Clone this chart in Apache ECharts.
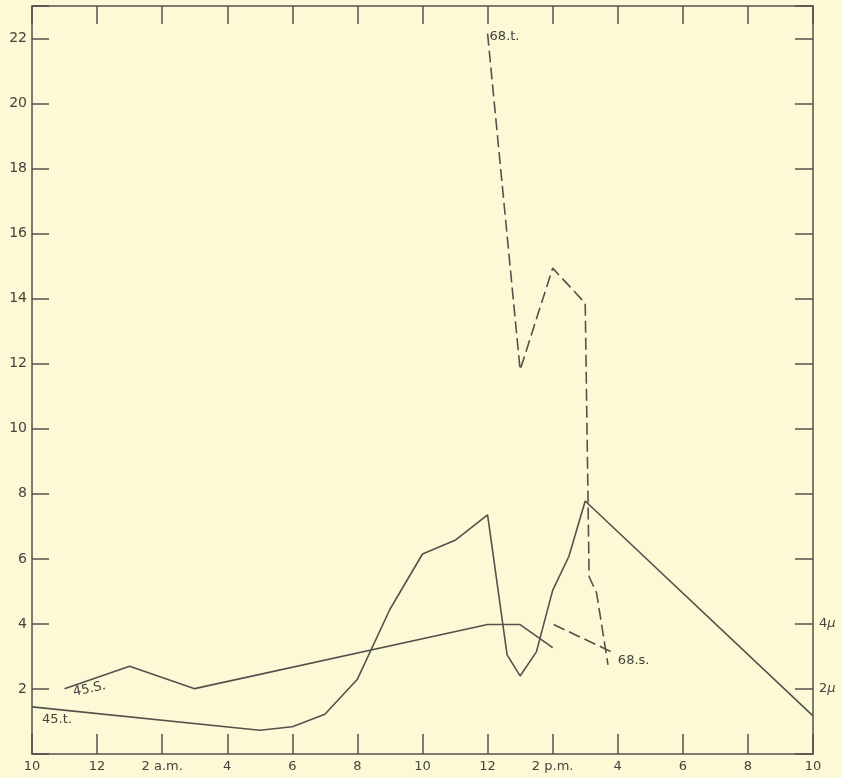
<!DOCTYPE html>
<html>
<head>
<meta charset="utf-8">
<script src="https://cdn.jsdelivr.net/npm/echarts@6/dist/echarts.min.js"></script>
<style>
html,body{margin:0;padding:0;background:#fcfad6;}
#c{width:842px;height:778px;}
</style>
</head>
<body>
<div id="c"></div>
<script>
// hours counted from 10 p.m. of the previous day
var xTickLabels = ['10','12','2 a.m.','4','6','8','10','12','2 p.m.','4','6','8','10'];
var rightLabels = {2:'2', 4:'4'};

var t45Hours = [0, 7, 8, 9, 10, 11, 12, 13, 14, 14.6, 15, 15.5, 16, 16.5, 17, 24];
var t45Values = [1.45, 0.73, 0.84, 1.22, 2.3, 4.45, 6.15, 6.57, 7.35, 3.05, 2.4, 3.14, 5.03, 6.08, 7.78, 1.17];

var s45Hours = [1, 3, 5, 14, 15, 16];
var s45Values = [2.01, 2.7, 2.01, 3.98, 3.98, 3.27];

var t68Hours = [14, 15, 16, 17, 17.12, 17.35, 17.7];
var t68Values = [22.15, 11.81, 14.94, 13.86, 5.45, 4.95, 2.74];

var s68Hours = [16.03, 17.85];
var s68Values = [3.98, 3.12];

var INK = '#55514c';
var TEXT = '#45413d';
var FONT = 'DejaVu Sans';

function pts(h, v) { return h.map(function (x, i) { return [x, v[i]]; }); }
function withLabel(data, idx, label) {
  data[idx] = { value: data[idx], label: Object.assign({ show: true, color: TEXT, fontFamily: FONT, fontSize: 13 }, label) };
  return data;
}

var t45 = withLabel(pts(t45Hours, t45Values), 0, { formatter: '45.t.', position: 'right', distance: 10, offset: [0, 13] });
var s45 = withLabel(pts(s45Hours, s45Values), 0, { formatter: '45.S.', position: 'right', distance: 8, offset: [0, 4], rotate: 12 });
var t68 = withLabel(pts(t68Hours, t68Values), 0, { formatter: '68.t.', position: 'right', distance: 2, offset: [0, 3] });
var s68 = withLabel(pts(s68Hours, s68Values), s68Hours.length - 1, { formatter: '68.s.', position: 'right', distance: 5, offset: [0, 8] });

var axisLine = { show: true, onZero: false, lineStyle: { color: INK, width: 1.5 } };

function lineSeries(name, data, dashed) {
  return {
    name: name, type: 'line', data: data,
    symbol: 'circle', symbolSize: 0, showSymbol: true,
    itemStyle: { color: INK },
    lineStyle: { color: INK, width: 1.6, type: dashed ? [12, 5] : 'solid' },
    label: { show: false },
    emphasis: { disabled: true },
    silent: true,
    z: 3
  };
}

var chart = echarts.init(document.getElementById('c'), null, { renderer: 'canvas' });
chart.setOption({
  animation: false,
  backgroundColor: '#fcfad6',
  grid: { left: 32, right: 29, top: 6, bottom: 24, containLabel: false },
  xAxis: [
    {
      type: 'value', min: 0, max: 24, interval: 2, position: 'bottom',
      axisLine: axisLine,
      axisTick: { show: true, inside: true, length: 20, lineStyle: { color: INK, width: 1.5 } },
      axisLabel: {
        margin: 6, color: TEXT, fontFamily: FONT, fontSize: 13,
        formatter: function (v) { return xTickLabels[Math.round(v / 2)] || ''; }
      },
      splitLine: { show: false }
    },
    {
      type: 'value', min: 0, max: 24, interval: 2, position: 'top',
      axisLine: axisLine,
      axisTick: { show: true, inside: true, length: 18, lineStyle: { color: INK, width: 1.5 } },
      axisLabel: { show: false },
      splitLine: { show: false }
    }
  ],
  yAxis: [
    {
      type: 'value', min: 0, max: 23, interval: 2, position: 'left',
      axisLine: axisLine,
      axisTick: { show: true, inside: true, length: 17, lineStyle: { color: INK, width: 1.5 } },
      axisLabel: {
        margin: 5, color: TEXT, fontFamily: FONT, fontSize: 14,
        formatter: function (v) { return (v > 0 && v % 2 === 0) ? String(v) : ''; }
      },
      splitLine: { show: false }
    },
    {
      type: 'value', min: 0, max: 23, interval: 2, position: 'right',
      axisLine: axisLine,
      axisTick: { show: true, inside: true, length: 18, lineStyle: { color: INK, width: 1.5 } },
      axisLabel: {
        margin: 6, color: TEXT, fontFamily: FONT, fontSize: 13,
        formatter: function (v) { return rightLabels[v] ? '{n|' + rightLabels[v] + '}{m|μ}' : ''; },
        rich: {
          n: { color: TEXT, fontFamily: FONT, fontSize: 13 },
          m: { color: TEXT, fontFamily: FONT, fontSize: 13, fontStyle: 'italic' }
        }
      },
      splitLine: { show: false }
    }
  ],
  series: [
    lineSeries('45.t.', t45, false),
    lineSeries('45.s.', s45, false),
    lineSeries('68.t.', t68, true),
    lineSeries('68.s.', s68, true)
  ]
});
</script>
</body>
</html>
